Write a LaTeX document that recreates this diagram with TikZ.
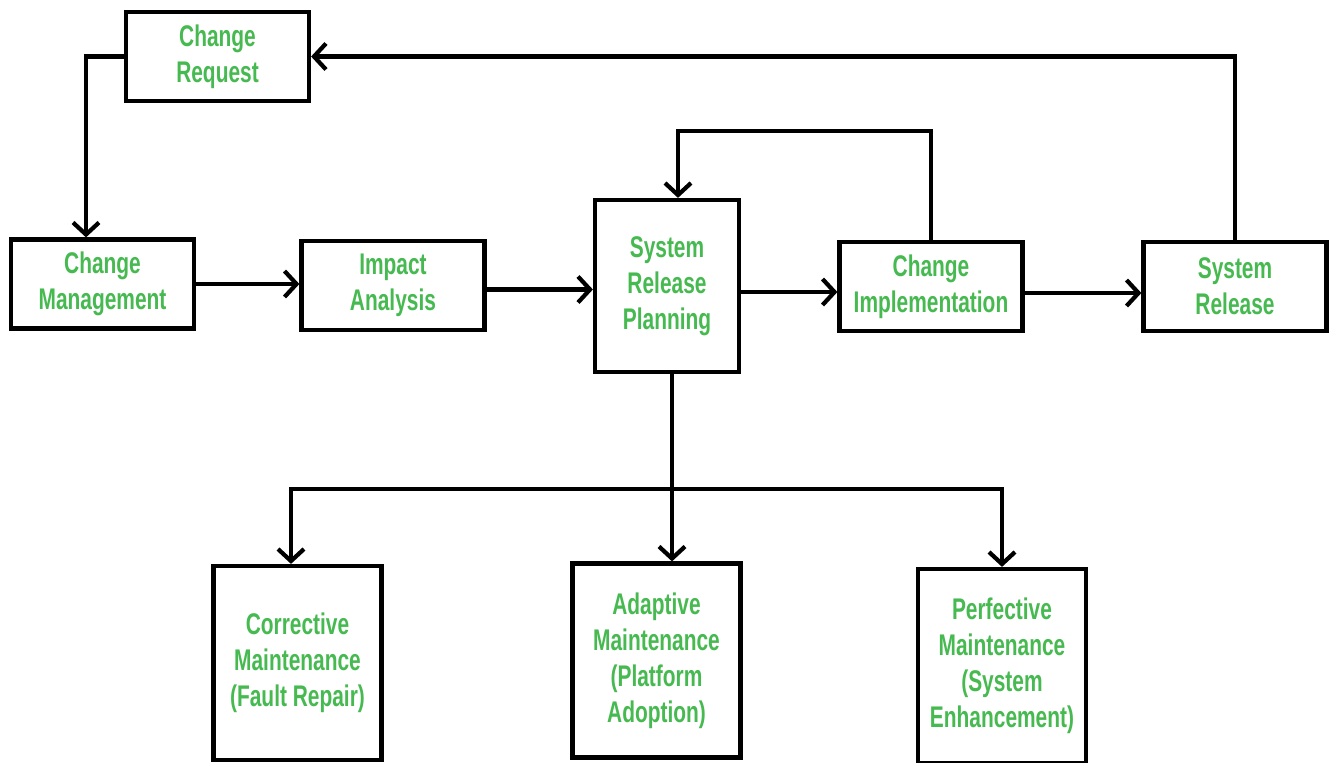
\documentclass[tikz,border=0pt]{standalone}
\usepackage{fontspec}
\setmainfont{Liberation Sans}[FakeStretch=0.7,UprightFont=* Bold]
\usetikzlibrary{arrows.meta,positioning}
\definecolor{labelgreen}{RGB}{70,185,80}

\begin{document}
\begin{tikzpicture}[line width=2.4pt,
  >={Straight Barb[length=0.24cm,width=0.52cm,line width=2.4pt]},
  blk/.style={draw,rectangle,inner sep=0pt,align=center,
    text=labelgreen,font=\fontsize{17}{20.5}\selectfont},
  wide/.style={blk,minimum width=3.66cm,minimum height=1.78cm},
  tall/.style={blk,minimum width=3.36cm,minimum height=3.88cm}]

  \useasboundingbox (0,0) rectangle (26.7,-15.24);

  % top row
  \node[wide] (req) at (4.35,-1.13) {Change\\Request};
  \node[wide] (mgmt) at (2.05,-5.68) {Change\\Management};
  \node[wide] (impact) at (7.86,-5.71) {Impact\\Analysis};
  \node[blk,minimum width=2.88cm,minimum height=3.44cm] (plan) at (13.34,-5.72)
    {System\\Release\\Planning};
  \node[wide] (impl) at (18.62,-5.73) {Change\\Implementation};
  \node[wide] (rel) at (24.7,-5.73) {System\\Release};

  % maintenance types
  \node[tall] (corr) at (5.95,-13.26) {Corrective\\Maintenance\\(Fault Repair)};
  \node[tall] (adapt) at (13.13,-13.21) {Adaptive\\Maintenance\\(Platform\\Adoption)};
  \node[tall] (perf) at (20.04,-13.32) {Perfective\\Maintenance\\(System\\Enhancement)};

  \coordinate (back) at (1.72,-1.13);
  \coordinate (loop) at (13.56,-2.62);
  \coordinate (bus) at (13.44,-9.78);

  % main flow
  \draw[->] (mgmt.east) -- (mgmt.east -| impact.west);
  \draw[->] ([yshift=-0.08cm]impact.east) -- ([yshift=-0.08cm]impact.east -| plan.west);
  \draw[->] ([yshift=-0.12cm]plan.east) -- ([yshift=-0.12cm]plan.east -| impl.west);
  \draw[->] ([yshift=-0.13cm]impl.east) -- ([yshift=-0.13cm]impl.east -| rel.west);

  % feedback loops
  \draw[->] (req.west) -- (back) -- (back |- mgmt.north);
  \draw[->] (rel.north) |- (req.east);
  \draw[->] (impl.north) |- (loop) -- (loop |- plan.north);

  % branch to maintenance
  \draw (plan.south -| bus) -- (bus);
  \draw[->] (bus) -| ([xshift=-0.13cm]corr.north);
  \draw[->] (bus) -- (bus |- adapt.north);
  \draw[->] (bus) -| (perf.north);

\end{tikzpicture}
\end{document}
